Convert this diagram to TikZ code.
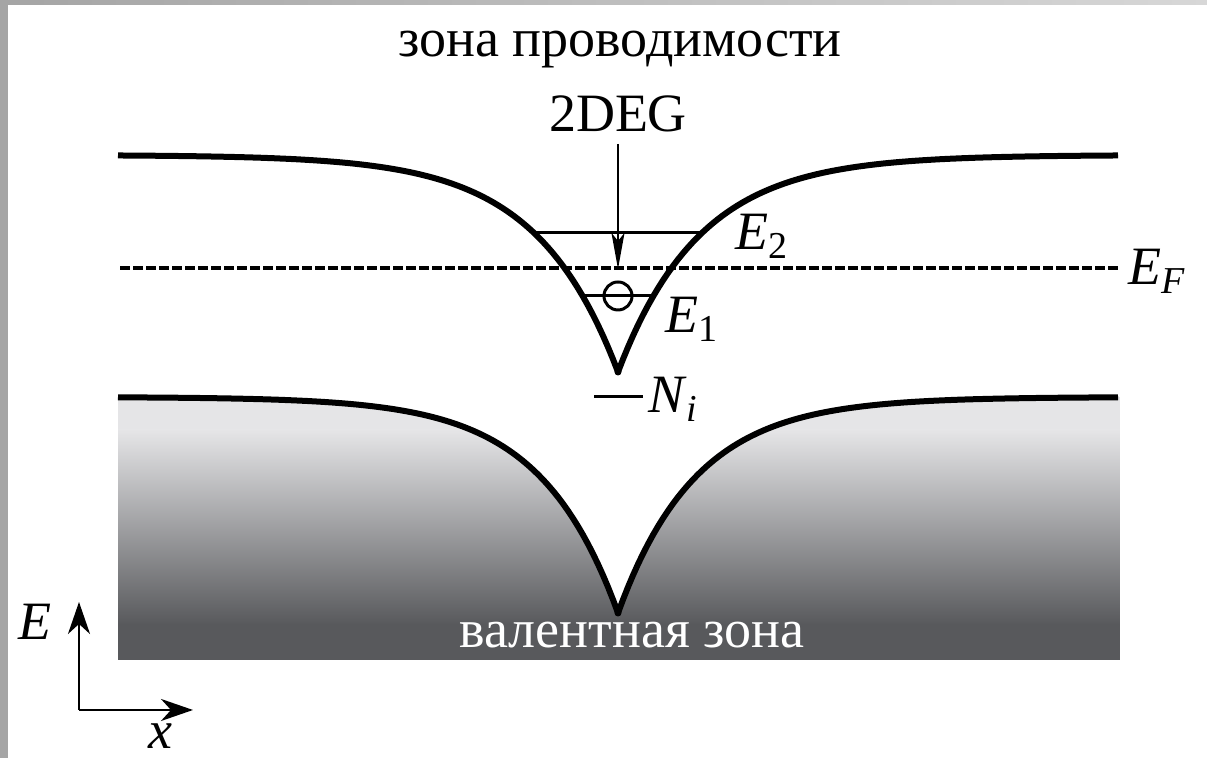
\documentclass[tikz,border=0pt]{standalone}
\usepackage{fontspec}
\setmainfont{Liberation Serif}[ItalicFont={Liberation Serif Italic}]
\usetikzlibrary{arrows.meta, positioning}

\definecolor{framegray}{RGB}{165,165,165}
\definecolor{framelight}{RGB}{215,215,215}
\definecolor{vblight}{RGB}{229,229,231}
\definecolor{vbdark}{RGB}{88,89,92}

\newcommand{\lvl}[2]{\textit{#1}\raisebox{-4.5pt}{\fontsize{19pt}{19pt}\selectfont #2}}

\begin{document}
\begin{tikzpicture}[x=0.5pt, y=0.5pt,
    band/.style={line width=3pt, line join=round},
    level/.style={line width=1.5pt},
    fermi/.style={line width=2pt, dash pattern=on 5pt off 1.5pt},
    txt/.style={font=\fontsize{27pt}{32pt}\selectfont, inner sep=0pt},
    axis/.style={line width=1.3pt, -{Stealth[length=16pt, width=11pt, inset=5pt]}},
    pointer/.style={line width=1pt, -{Stealth[length=18pt, width=6.5pt, inset=4pt]}},
    vertex/.style={circle, fill=black, inner sep=0pt, minimum size=3.5pt}
]
\useasboundingbox (0,0) rectangle (1207,758);

% frame
\fill[framegray] (0,0) rectangle (8,758);
\shade[left color=framegray, right color=framelight] (8,753) rectangle (1207,758);

% valence band fill
\begin{scope}
\clip plot[domain=118:1118, samples=201] (\x, {361-216*exp(-abs(\x-618)/78)}) -- (1120,361) -- (1120,98) -- (118,98) -- cycle;
\fill[vblight] (118,327) rectangle (1120,365);
\shade[top color=vblight, bottom color=vbdark] (118,133) rectangle (1120,328);
\fill[vbdark] (118,98) rectangle (1120,134);
\end{scope}

% bands
\draw[band] plot[domain=118:1118, samples=201] (\x, {603-217*exp(-abs(\x-618)/82)});
\draw[band] plot[domain=118:1118, samples=201] (\x, {361-216*exp(-abs(\x-618)/78)});
\node[vertex] (cbmin) at (618,386) {};
\node[vertex] (vbmax) at (618,145) {};

% levels
\coordinate (e2l) at (534,525);
\coordinate (e2r) at (702,525);
\draw[level] (e2l) -- (e2r);
\coordinate (e1l) at (583,462);
\coordinate (e1r) at (653,462);
\draw[level] (e1l) -- (e1r);
\node[draw, circle, line width=1.5pt, minimum size=14pt, inner sep=0pt] (electron) at (618,462) {};
\coordinate (efl) at (120,490);
\coordinate (efr) at (1118,490);
\draw[fermi] (efl) -- (efr);
\coordinate (nil) at (594,361);
\coordinate (nir) at (643,361);
\draw[level] (nil) -- (nir);

% labels
\node[txt, anchor=base] (cbtext) at (620,701) {зона проводимости};
\node[txt, anchor=base] (deg) at (618,626) {2DEG};
\coordinate (efmid) at (618,489);
\draw[pointer] ([yshift=-5.5pt]deg.south) -- (efmid);
\node[txt, anchor=base west] (e2) at (735,508) {\lvl{E}{2}};
\node[txt, anchor=base west] (ef) at (1128,473) {\lvl{E}{\textit{F}}};
\node[txt, anchor=base west] (e1) at (665,425) {\lvl{E}{1}};
\node[txt, anchor=base west] (ni) at (648,345) {\lvl{N}{\textit{i}}};
\node[txt, anchor=base, text=white] (vbtext) at (632,110) {валентная зона};

% axes
\coordinate (origin) at (79,48);
\coordinate (etip) at (79,156);
\coordinate (xtip) at (193,48);
\draw[axis] (origin) -- (etip);
\draw[axis] (origin) -- (xtip);
\node[txt, anchor=base west] (elabel) at (18,118) {\textit{E}};
\node[txt, anchor=base] (xlabel) at (160,9) {\textit{x}};

\end{tikzpicture}
\end{document}
